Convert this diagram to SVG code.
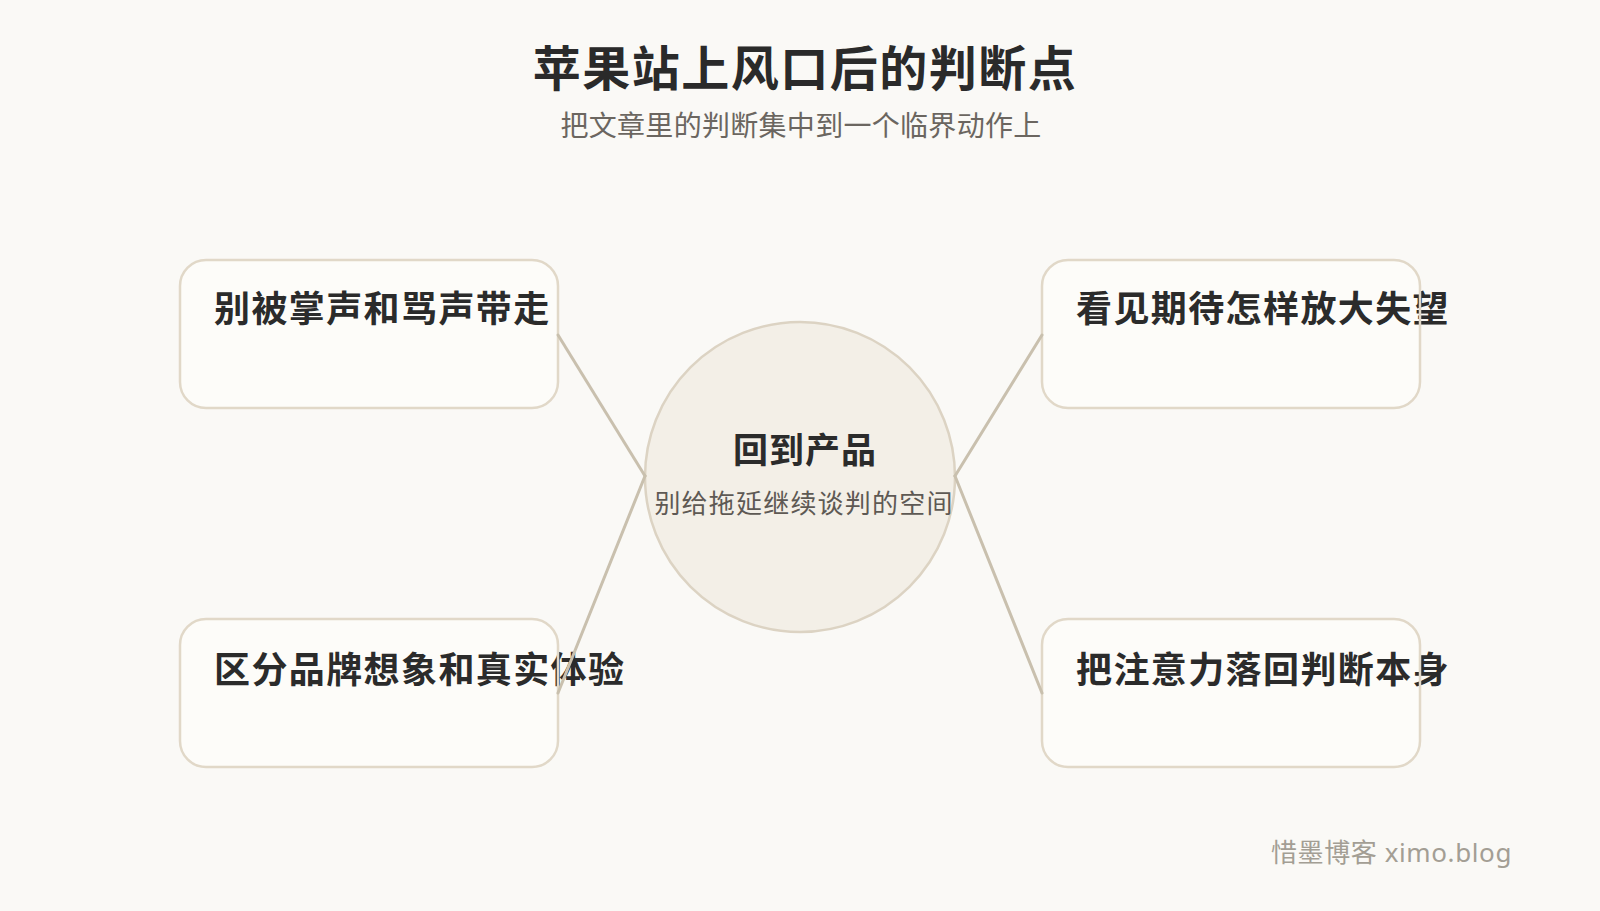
<svg xmlns="http://www.w3.org/2000/svg" width="1600" height="911" viewBox="0 0 1600 911">
<style>
.bg{fill:#faf9f6}
.box{fill:#fdfcf9}
.border{fill:none;stroke:#e1d8c8;stroke-width:2.5}
.cn{font-family:"Noto Sans CJK SC","Noto Sans",sans-serif}
.title{font-size:48px;font-weight:700;fill:#2a2a2a;letter-spacing:1.5px}
.sub{font-size:28px;fill:#6b6660;letter-spacing:0.3px}
.label{font-size:36px;font-weight:700;fill:#2b2b2b;letter-spacing:1.4px}
.clabel{font-size:35px;font-weight:700;fill:#2b2b2b;letter-spacing:1px}
.csub{font-size:26px;fill:#5e5954;letter-spacing:1.2px}
.foot{font-family:"Noto Sans","Noto Sans CJK SC",sans-serif;font-size:26px;fill:#a39e94;letter-spacing:0.6px}
.conn{stroke:#c9c0ae;stroke-width:3;fill:none;stroke-linecap:round}
</style>
<rect class="bg" x="0" y="0" width="1600" height="911"/>
<g id="header">
<text class="cn title" x="805" y="86" text-anchor="middle">苹果站上风口后的判断点</text>
<text class="cn sub" x="801" y="136" text-anchor="middle">把文章里的判断集中到一个临界动作上</text>
</g>
<g id="center">
<circle cx="800" cy="477" r="155" fill="#f3efe7" stroke="#dcd3c3" stroke-width="2.5"/>
<text class="cn clabel" x="805" y="463" text-anchor="middle">回到产品</text>
<text class="cn csub" x="804" y="513" text-anchor="middle">别给拖延继续谈判的空间</text>
</g>
<g id="node-tl">
<rect class="box" x="180" y="260" width="378" height="148" rx="26"/>
<text class="cn label" x="214" y="322">别被掌声和骂声带走</text>
<rect class="border" x="180" y="260" width="378" height="148" rx="26"/>
</g>
<g id="node-tr">
<rect class="box" x="1042" y="260" width="378" height="148" rx="26"/>
<text class="cn label" x="1076" y="322">看见期待怎样放大失望</text>
<rect class="border" x="1042" y="260" width="378" height="148" rx="26"/>
</g>
<g id="node-bl">
<rect class="box" x="180" y="619" width="378" height="148" rx="26"/>
<text class="cn label" x="214" y="683">区分品牌想象和真实体验</text>
<rect class="border" x="180" y="619" width="378" height="148" rx="26"/>
</g>
<g id="node-br">
<rect class="box" x="1042" y="619" width="378" height="148" rx="26"/>
<text class="cn label" x="1076" y="683">把注意力落回判断本身</text>
<rect class="border" x="1042" y="619" width="378" height="148" rx="26"/>
</g>
<g id="connectors">
<line class="conn" x1="558" y1="335" x2="645" y2="476"/>
<line class="conn" x1="558" y1="693" x2="645" y2="476"/>
<line class="conn" x1="1042" y1="335" x2="955" y2="476"/>
<line class="conn" x1="1042" y1="693" x2="955" y2="476"/>
</g>
<g id="footer">
<text class="foot" x="1512" y="862" text-anchor="end">惜墨博客 ximo.blog</text>
</g>
</svg>
